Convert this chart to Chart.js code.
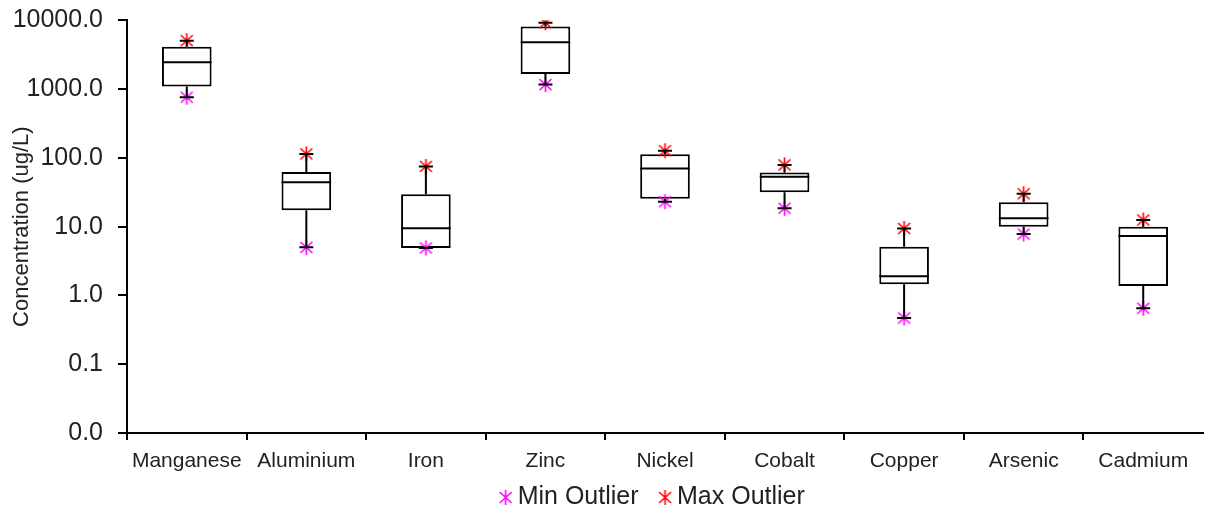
<!DOCTYPE html>
<html>
<head>
<meta charset="utf-8">
<script src="https://cdn.jsdelivr.net/npm/chart.js@4/dist/chart.umd.min.js"></script>
<style>
    body { margin: 0; background: #fff; }
    #wrap { width: 1208px; height: 514px; }
</style>
</head>
<body>
<div id="wrap"><canvas id="boxChart" width="1208" height="514"></canvas></div>
<script>
const metals = ["Manganese", "Aluminium", "Iron", "Zinc", "Nickel", "Cobalt", "Copper", "Arsenic", "Cadmium"];

const q1 = [1085, 17.3, 4.9, 1660, 25.5, 31.6, 1.45, 10.0, 1.37];
const median = [2450, 44, 9.5, 4800, 70, 53, 1.9, 13.2, 7.3];
const q3 = [4130, 62, 29.6, 8100, 113, 61, 5.1, 22.6, 10.0];
const minOutlier = [760, 5.0, 4.9, 1160, 23, 18.5, 0.47, 7.8, 0.65];
const maxOutlier = [5050, 114, 75, 9200, 127, 79, 9.4, 30, 12.5];

const yTicks = [0.01, 0.1, 1, 10, 100, 1000, 10000];

const textColor = "#222";
const fontFamily = "'Liberation Sans', Arial, sans-serif";

// six spoke asterisk, cx = where its centre sits inside a canvas of width w
function asterisk(color, w, cx) {
    const c = document.createElement("canvas");
    c.width = w;
    c.height = 17;
    const g = c.getContext("2d");
    g.strokeStyle = color;
    g.lineWidth = 1.6;
    g.beginPath();
    g.moveTo(cx, 1);
    g.lineTo(cx, 16);
    g.moveTo(cx - 6, 3);
    g.lineTo(cx + 6, 14);
    g.moveTo(cx - 6, 14);
    g.lineTo(cx + 6, 3);
    g.stroke();
    return c;
}

// median line, whiskers and whisker caps on top of the boxes
const whiskers = {
    id: "whiskers",
    afterDatasetsDraw(chart) {
        const ctx = chart.ctx;
        const x = chart.scales.x;
        const y = chart.scales.y;
        const boxes = chart.getDatasetMeta(0).data;

        ctx.save();
        ctx.strokeStyle = "#000";
        ctx.lineWidth = 2;

        boxes.forEach((bar, i) => {
            const cx = x.getPixelForValue(i);
            const half = bar.width / 2;

            const yMed = y.getPixelForValue(median[i]);
            const yTop = y.getPixelForValue(q3[i]);
            const yBot = y.getPixelForValue(q1[i]);
            const yMax = y.getPixelForValue(maxOutlier[i]);
            const yMin = y.getPixelForValue(minOutlier[i]);

            ctx.beginPath();
            ctx.moveTo(cx - half, yMed);
            ctx.lineTo(cx + half, yMed);

            ctx.moveTo(cx, yTop);
            ctx.lineTo(cx, yMax);
            ctx.moveTo(cx - 7, yMax);
            ctx.lineTo(cx + 7, yMax);

            ctx.moveTo(cx, yBot);
            ctx.lineTo(cx, yMin);
            ctx.moveTo(cx - 7, yMin);
            ctx.lineTo(cx + 7, yMin);
            ctx.stroke();
        });

        ctx.restore();
    }
};

// the legend sits a little left of the plot centre and a bit lower
const legendNudge = {
    id: "legendNudge",
    afterLayout(chart) {
        chart.legend.left -= 20;
        chart.legend.right -= 20;
        chart.legend.top += 3;
        chart.legend.bottom += 3;
    }
};

const ctx = document.getElementById("boxChart");

new Chart(ctx, {
    type: "bar",
    data: {
        labels: metals,
        datasets: [
            {
                label: "",
                data: metals.map((m, i) => [q1[i], q3[i]]),
                backgroundColor: "#fff",
                borderColor: "#000",
                borderWidth: 2,
                borderSkipped: false,
                barPercentage: 0.415,
                categoryPercentage: 1,
                order: 2
            },
            {
                type: "line",
                label: "Min Outlier",
                data: minOutlier,
                showLine: false,
                pointStyle: asterisk("#ff00ff", 17, 8.5),
                borderColor: "#ff00ff",
                backgroundColor: "#ff00ff",
                order: 1
            },
            {
                type: "line",
                label: "Max Outlier",
                data: maxOutlier,
                showLine: false,
                pointStyle: asterisk("#ff0000", 17, 8.5),
                borderColor: "#ff0000",
                backgroundColor: "#ff0000",
                order: 1
            }
        ]
    },
    options: {
        responsive: false,
        animation: false,
        layout: {
            padding: { top: 16, right: 1, left: 0, bottom: -3 }
        },
        plugins: {
            legend: {
                position: "bottom",
                fullSize: false,
                labels: {
                    usePointStyle: true,
                    pointStyleWidth: 20,
                    padding: 6,
                    color: textColor,
                    font: { family: fontFamily, size: 25 },
                    filter: item => item.datasetIndex > 0,
                    // legend marks sit right next to their text
                    generateLabels: chart =>
                        Chart.defaults.plugins.legend.labels.generateLabels(chart).map(item => {
                            item.pointStyle = asterisk(item.fillStyle, 40, 30.5);
                            return item;
                        })
                }
            },
            tooltip: { enabled: false }
        },
        scales: {
            x: {
                type: "category",
                offset: true,
                afterFit: scale => { scale.height = 43; },
                grid: {
                    offset: true,
                    drawOnChartArea: false,
                    drawTicks: true,
                    tickLength: 7,
                    // the extra boundary line at the right end has no tick context
                    color: c => c.tick ? "#000" : "rgba(0,0,0,0)",
                    lineWidth: 2
                },
                border: { display: true, color: "#000", width: 2 },
                ticks: {
                    padding: 9,
                    color: textColor,
                    font: { family: fontFamily, size: 21 }
                }
            },
            y: {
                type: "logarithmic",
                min: 0.01,
                max: 10000,
                afterFit: scale => { scale.width = 127; },
                afterBuildTicks: scale => {
                    scale.ticks = yTicks.map(v => ({ value: v }));
                },
                grid: {
                    drawOnChartArea: false,
                    drawTicks: true,
                    tickLength: 9,
                    color: "#000",
                    lineWidth: 2
                },
                border: { display: true, color: "#000", width: 2 },
                ticks: {
                    padding: 15,
                    color: textColor,
                    font: { family: fontFamily, size: 25, lineHeight: 0.42 },
                    callback: value => Number(value).toFixed(1)
                },
                title: {
                    display: true,
                    text: "Concentration (ug/L)",
                    color: textColor,
                    font: { family: fontFamily, size: 22 },
                    padding: { top: 9, bottom: 0 }
                }
            }
        }
    },
    plugins: [whiskers, legendNudge]
});
</script>
</body>
</html>
